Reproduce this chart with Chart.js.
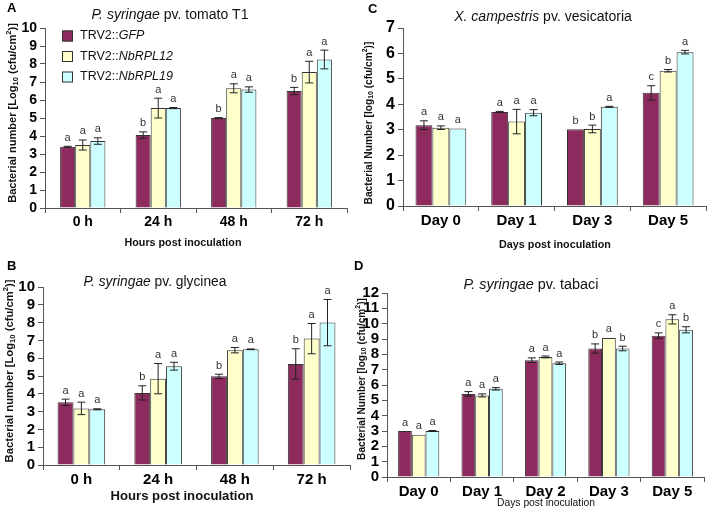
<!DOCTYPE html>
<html>
<head>
<meta charset="utf-8">
<script src="https://cdn.jsdelivr.net/npm/chart.js@4"></script>
<style>
  body { margin: 0; background: #fff; }
  #wrap { position: relative; width: 708px; height: 517px; overflow: hidden; }
  canvas { position: absolute; }
</style>
</head>
<body>
<div id="wrap">
  <canvas id="chartA" width="354" height="258" style="left:0;top:0"></canvas>
  <canvas id="chartC" width="354" height="258" style="left:354px;top:0"></canvas>
  <canvas id="chartB" width="354" height="259" style="left:0;top:258px"></canvas>
  <canvas id="chartD" width="354" height="259" style="left:354px;top:258px"></canvas>
</div>
<script>
// ---- data ----
const seriesNames = ['GFP', 'NbRPL12', 'NbRPL19'];

const hourLabels = ['0 h', '24 h', '48 h', '72 h'];
const dayLabelsC = ['Day 0', 'Day 1', 'Day 3', 'Day 5'];
const dayLabelsD = ['Day 0', 'Day 1', 'Day 2', 'Day 3', 'Day 5'];

// A: P. syringae pv. tomato T1
const tomatoGFP = [3.40, 4.05, 5.00, 6.50];
const tomatoRPL12 = [3.50, 5.55, 6.65, 7.55];
const tomatoRPL19 = [3.72, 5.55, 6.58, 8.25];
const tomatoErrGFP = [0.03, 0.18, 0.02, 0.20];
const tomatoErrRPL12 = [0.28, 0.55, 0.25, 0.60];
const tomatoErrRPL19 = [0.18, 0.03, 0.15, 0.52];
const tomatoLetters = [['a', 'b', 'b', 'b'], ['a', 'a', 'a', 'a'], ['a', 'a', 'a', 'a']];

// B: P. syringae pv. glycinea
const glycineaGFP = [3.52, 4.05, 4.98, 5.68];
const glycineaRPL12 = [3.18, 4.85, 6.45, 7.10];
const glycineaRPL19 = [3.13, 5.55, 6.50, 8.00];
const glycineaErrGFP = [0.18, 0.40, 0.12, 0.85];
const glycineaErrRPL12 = [0.35, 0.85, 0.15, 0.85];
const glycineaErrRPL19 = [0.03, 0.22, 0.02, 1.30];
const glycineaLetters = [['a', 'b', 'b', 'b'], ['a', 'a', 'a', 'a'], ['a', 'a', 'a', 'a']];

// C: X. campestris pv. vesicatoria
const xcvGFP = [3.18, 3.70, 3.02, 4.45];
const xcvRPL12 = [3.08, 3.32, 3.03, 5.32];
const xcvRPL19 = [3.05, 3.67, 3.90, 6.05];
const xcvErrGFP = [0.17, 0.02, 0.00, 0.28];
const xcvErrRPL12 = [0.07, 0.48, 0.15, 0.05];
const xcvErrRPL19 = [0.00, 0.12, 0.02, 0.07];
const xcvLetters = [['a', 'a', 'b', 'c'], ['a', 'a', 'b', 'b'], ['a', 'a', 'a', 'a']];

// D: P. syringae pv. tabaci
const tabaciGFP = [3.00, 5.42, 7.62, 8.38, 9.22];
const tabaciRPL12 = [2.75, 5.32, 7.83, 9.07, 10.28];
const tabaciRPL19 = [3.00, 5.75, 7.42, 8.38, 9.60];
const tabaciErrGFP = [0.00, 0.15, 0.15, 0.30, 0.18];
const tabaciErrRPL12 = [0.00, 0.10, 0.06, 0.00, 0.30];
const tabaciErrRPL19 = [0.03, 0.08, 0.08, 0.15, 0.20];
const tabaciLetters = [['a', 'a', 'a', 'b', 'c'], ['a', 'a', 'a', 'a', 'a'], ['a', 'a', 'a', 'b', 'b']];

const fills = ['#8e2b5e', '#ffffcc', '#ccffff'];
const FAM = '"Liberation Sans", Arial, sans-serif';

// ---- text helpers ----
function partFont(p, size, weight) {
  const small = p[1] === 'sub' || p[1] === 'sup';
  const sz = small ? size * 0.68 : size;
  return (p[1] === 'italic' ? 'italic ' : '') + weight + ' ' + sz + 'px ' + FAM;
}

function richWidth(ctx, parts, size, weight) {
  let w = 0;
  parts.forEach(p => { ctx.font = partFont(p, size, weight); w += ctx.measureText(p[0]).width; });
  return w;
}

// draws text centred on (cx, cy); if target is given the size is scaled to that width
function drawRich(ctx, parts, cx, cy, size, weight, target) {
  if (target) size = size * target / richWidth(ctx, parts, size, weight);
  const total = richWidth(ctx, parts, size, weight);
  let x = cx - total / 2;
  ctx.textBaseline = 'middle';
  ctx.textAlign = 'left';
  ctx.fillStyle = '#111';
  parts.forEach(p => {
    ctx.font = partFont(p, size, weight);
    let dy = 0;
    if (p[1] === 'sub') dy = size * 0.25;
    if (p[1] === 'sup') dy = -size * 0.35;
    ctx.fillText(p[0], x, cy + dy);
    x += ctx.measureText(p[0]).width;
  });
}

function annotPlugin(cfg) {
  return {
    id: 'annot',
    afterDatasetsDraw(chart) {
      const ctx = chart.ctx;
      const y = chart.scales.y;
      ctx.save();
      chart.data.datasets.forEach((ds, i) => {
        chart.getDatasetMeta(i).data.forEach((bar, j) => {
          const v = ds.data[j], e = ds.err[j];
          const top = y.getPixelForValue(v + e);
          const bot = y.getPixelForValue(v - e);
          if (e > 0) {
            ctx.strokeStyle = '#222';
            ctx.lineWidth = 1;
            ctx.beginPath();
            ctx.moveTo(bar.x, top); ctx.lineTo(bar.x, bot);
            ctx.moveTo(bar.x - 4, top); ctx.lineTo(bar.x + 4, top);
            ctx.moveTo(bar.x - 4, bot); ctx.lineTo(bar.x + 4, bot);
            ctx.stroke();
          }
          ctx.font = cfg.letterSize + 'px ' + FAM;
          ctx.fillStyle = '#333';
          ctx.textAlign = 'center';
          ctx.textBaseline = 'bottom';
          ctx.fillText(ds.letters[j], bar.x, Math.min(top, bar.y) - 3);
        });
      });
      ctx.restore();
    },
    afterDraw(chart) {
      const ctx = chart.ctx;
      ctx.save();
      // panel letter
      ctx.font = 'bold 13px ' + FAM;
      ctx.fillStyle = '#000';
      ctx.textAlign = 'left';
      ctx.textBaseline = 'middle';
      ctx.fillText(cfg.panel[0], cfg.panel[1], cfg.panel[2]);
      // title
      drawRich(ctx, cfg.title, cfg.titlePos[0], cfg.titlePos[1], 15, 'normal', cfg.titlePos[2]);
      // x title
      drawRich(ctx, [[cfg.xTitle, '']], cfg.xTitlePos[0], cfg.xTitlePos[1], 11, cfg.xTitlePos[3], cfg.xTitlePos[2]);
      // y title
      ctx.translate(cfg.yTitlePos[0], cfg.yTitlePos[1]);
      ctx.rotate(-Math.PI / 2);
      drawRich(ctx, cfg.yTitle, 0, 0, 11, 'bold', cfg.yTitlePos[2]);
      ctx.setTransform(1, 0, 0, 1, 0, 0);
      // legend
      if (cfg.legend) {
        chart.data.datasets.forEach((ds, i) => {
          const cy = cfg.legend[1] + i * 20.5;
          ctx.fillStyle = ds.backgroundColor;
          ctx.fillRect(cfg.legend[0], cy - 5.5, 11, 11);
          ctx.strokeStyle = '#333';
          ctx.lineWidth = 1;
          ctx.strokeRect(cfg.legend[0] + 0.5, cy - 5, 10, 10);
          ctx.font = '12.5px ' + FAM;
          const w = ctx.measureText('TRV2::').width;
          ctx.font = 'italic 12.5px ' + FAM;
          const w2 = ctx.measureText(ds.label).width;
          drawRich(ctx, [['TRV2::', ''], [ds.label, 'italic']], cfg.legend[0] + 18 + (w + w2) / 2, cy, 12.5, 'normal');
        });
      }
      ctx.restore();
    }
  };
}

function makeChart(id, cfg) {
  const datasets = cfg.values.map((v, i) => ({
    label: seriesNames[i],
    data: v,
    err: cfg.errors[i],
    letters: cfg.letters[i],
    backgroundColor: fills[i],
    borderColor: '#333',
    borderWidth: 1,
    categoryPercentage: cfg.catPct,
    barPercentage: 1
  }));
  return new Chart(document.getElementById(id), {
    type: 'bar',
    data: { labels: cfg.labels, datasets: datasets },
    options: {
      responsive: false,
      animation: false,
      devicePixelRatio: 1,
      layout: { padding: { left: 0, right: cfg.area.right, top: cfg.area.top, bottom: 0 } },
      plugins: { legend: { display: false }, tooltip: { enabled: false } },
      scales: {
        x: {
          grid: { drawOnChartArea: false, tickLength: 5, color: '#555' },
          border: { color: '#555' },
          ticks: { color: '#000', font: { family: FAM, size: cfg.xTick, weight: 'bold' }, padding: 1 },
          afterFit: s => { s.height = cfg.area.xh; }
        },
        y: {
          min: 0, max: cfg.max,
          grid: { drawOnChartArea: false, tickLength: 5, color: '#555' },
          border: { color: '#555' },
          ticks: { stepSize: 1, autoSkip: false, color: '#000', font: { family: FAM, size: cfg.yTick, weight: 'bold' }, padding: 3 },
          afterFit: s => { s.width = cfg.area.yw; }
        }
      }
    },
    plugins: [annotPlugin(cfg)]
  });
}

const yTitleUpper = [['Bacterial number [Log', ''], ['10', 'sub'], [' (cfu/cm', ''], ['2', 'sup'], [')]', '']];
const yTitleLower = [['Bacterial Number [log', ''], ['10', 'sub'], [' (cfu/cm', ''], ['2', 'sup'], [')]', '']];

makeChart('chartA', {
  labels: hourLabels, max: 10, catPct: 0.6, xTick: 14, yTick: 14, letterSize: 11,
  values: [tomatoGFP, tomatoRPL12, tomatoRPL19],
  errors: [tomatoErrGFP, tomatoErrRPL12, tomatoErrRPL19],
  letters: tomatoLetters,
  area: { top: 28, right: 7, yw: 45, xh: 50 },
  panel: ['A', 7, 8],
  title: [['P. syringae', 'italic'], [' pv. tomato T1', '']], titlePos: [170, 15, 157],
  xTitle: 'Hours post inoculation', xTitlePos: [183, 243, 117, 'bold'],
  yTitle: yTitleUpper, yTitlePos: [13, 113, 180],
  legend: [62, 36]
});

makeChart('chartB', {
  labels: hourLabels, max: 10, catPct: 0.62, xTick: 15, yTick: 15, letterSize: 11,
  values: [glycineaGFP, glycineaRPL12, glycineaRPL19],
  errors: [glycineaErrGFP, glycineaErrRPL12, glycineaErrRPL19],
  letters: glycineaLetters,
  area: { top: 29, right: 4, yw: 43, xh: 52 },
  panel: ['B', 7, 8],
  title: [['P. syringae', 'italic'], [' pv. glycinea', '']], titlePos: [155, 24, 143],
  xTitle: 'Hours post inoculation', xTitlePos: [182, 238, 143, 'bold'],
  yTitle: yTitleUpper, yTitlePos: [10, 113, 183],
  legend: null
});

makeChart('chartC', {
  labels: dayLabelsC, max: 7, catPct: 0.67, xTick: 15, yTick: 16, letterSize: 11,
  values: [xcvGFP, xcvRPL12, xcvRPL19],
  errors: [xcvErrGFP, xcvErrRPL12, xcvErrRPL19],
  letters: xcvLetters,
  area: { top: 28, right: 2, yw: 49, xh: 52 },
  panel: ['C', 14, 9],
  title: [['X. campestris', 'italic'], [' pv. vesicatoria', '']], titlePos: [189, 17, 178],
  xTitle: 'Days post inoculation', xTitlePos: [201, 245, 112, 'bold'],
  yTitle: yTitleLower, yTitlePos: [15, 123, 163],
  legend: null
});

makeChart('chartD', {
  labels: dayLabelsD, max: 12, catPct: 0.65, xTick: 15, yTick: 15, letterSize: 11,
  values: [tabaciGFP, tabaciRPL12, tabaciRPL19],
  errors: [tabaciErrGFP, tabaciErrRPL12, tabaciErrRPL19],
  letters: tabaciLetters,
  area: { top: 35, right: 4, yw: 33, xh: 40 },
  panel: ['D', 0, 8],
  title: [['P. syringae', 'italic'], [' pv. tabaci', '']], titlePos: [177, 27, 135],
  xTitle: 'Days post inoculation', xTitlePos: [192, 245, 98, 'normal'],
  yTitle: yTitleLower, yTitlePos: [8, 121, 162],
  legend: null
});
</script>
</body>
</html>
